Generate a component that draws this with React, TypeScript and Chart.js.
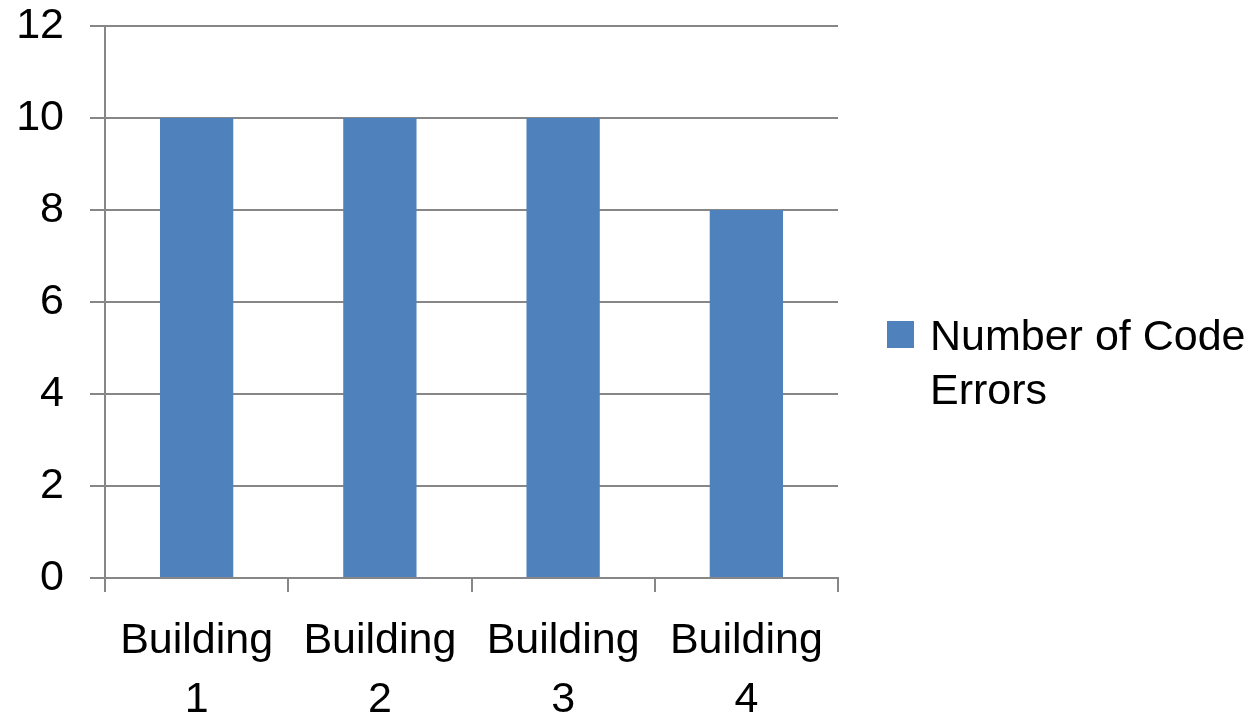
import React, { useEffect, useRef } from "react";
import { Chart, registerables } from "chart.js";

Chart.register(...registerables);

const categories: string[][] = [
  ["Building", "1"],
  ["Building", "2"],
  ["Building", "3"],
  ["Building", "4"],
];
const seriesLabel = "Number of Code Errors";
const seriesValues: number[] = [10, 10, 10, 8];
const yTicks: number[] = [0, 2, 4, 6, 8, 10, 12];

const FONT = "'Liberation Sans', Arial, sans-serif";
const GRID = "#878787";
const BAR = "#4F81BD";

const legendPlugin = {
  id: "sideLegend",
  afterDraw(chart: any) {
    const ctx = chart.ctx as CanvasRenderingContext2D;
    const ds = chart.data.datasets[0];
    const left = chart.chartArea.right + 49;
    const textX = left + 43;
    const maxW = chart.width - textX - 4;
    ctx.save();
    ctx.font = `43px ${FONT}`;
    const words = String(ds.label).split(" ");
    const lines: string[] = [];
    let cur = "";
    for (const w of words) {
      const t = cur ? cur + " " + w : w;
      if (ctx.measureText(t).width > maxW && cur) {
        lines.push(cur);
        cur = w;
      } else cur = t;
    }
    if (cur) lines.push(cur);
    const firstBase = 350;
    const step = 54;
    ctx.fillStyle = ds.backgroundColor;
    ctx.fillRect(left, 321, 27, 27);
    ctx.fillStyle = "#000";
    ctx.textBaseline = "alphabetic";
    ctx.textAlign = "left";
    lines.forEach((l, i) => ctx.fillText(l, textX, firstBase + i * step));
    ctx.restore();
  },
};

export default function App() {
  const ref = useRef<HTMLCanvasElement>(null);
  useEffect(() => {
    if (!ref.current) return;
    const chart = new Chart(ref.current, {
      type: "bar",
      data: {
        labels: categories,
        datasets: [
          {
            label: seriesLabel,
            data: seriesValues,
            backgroundColor: BAR,
            borderWidth: 0,
            barPercentage: 0.4,
            categoryPercentage: 1,
          },
        ],
      },
      options: {
        responsive: false,
        animation: false,
        devicePixelRatio: 1,
        layout: { padding: { top: 26, right: 416, left: 0, bottom: 0 } },
        plugins: {
          legend: { display: false },
          tooltip: { enabled: false },
          title: { display: false },
        },
        scales: {
          x: {
            offset: true,
            grid: {
              offset: true,
              drawOnChartArea: false,
              drawTicks: true,
              tickLength: 14,
              color: GRID,
              lineWidth: 2,
            },
            border: { display: true, color: GRID, width: 2 },
            ticks: {
              color: "#000",
              font: { family: FONT, size: 43, lineHeight: 1.37 },
              padding: 20,
              maxRotation: 0,
              autoSkip: false,
            },
            afterFit: (s: any) => {
              s.height = 140;
              s.paddingLeft = 0;
              s.paddingRight = 0;
            },
          },
          y: {
            min: 0,
            max: 12,
            afterBuildTicks: (s: any) => {
              s.ticks = yTicks.map((v) => ({ value: v }));
            },
            grid: {
              color: GRID,
              lineWidth: 2,
              drawTicks: true,
              tickLength: 15,
            },
            border: { display: true, color: GRID, width: 2 },
            ticks: {
              color: "#000",
              font: { family: FONT, size: 43, lineHeight: 1.2 },
              padding: 26,
            },
            afterFit: (s: any) => {
              s.width = 105;
              s.paddingTop = 0;
              s.paddingBottom = 0;
            },
          },
        },
      },
      plugins: [legendPlugin],
    });
    return () => chart.destroy();
  }, []);
  return (
    <div style={{ position: "fixed", left: 0, top: 0, width: 1254, height: 718, background: "#fff" }}>
      <canvas ref={ref} width={1254} height={718} style={{ display: "block" }} />
    </div>
  );
}
